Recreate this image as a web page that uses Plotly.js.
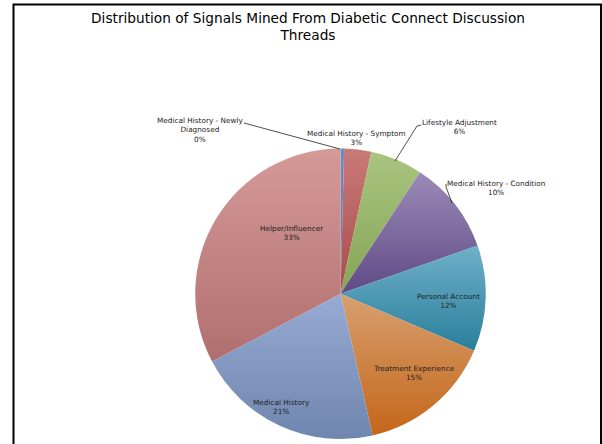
<!DOCTYPE html>
<html><head><meta charset="utf-8">
<script src="https://cdn.plot.ly/plotly-3.0.1.min.js"></script>
<style>html,body{margin:0;padding:0;background:#fff}</style></head>
<body><div id="chart" style="width:602px;height:444px"></div>
<script>
const categories = ["Medical History - Newly Diagnosed","Medical History - Symptom","Lifestyle Adjustment","Medical History - Condition","Personal Account","Treatment Experience","Medical History","Helper/Influencer"];
const values = [0.4,3.0,5.8,10.4,11.8,15.0,20.8,32.7];
const colors = ["#6f8bc0","#c97a78","#a9c47f","#9c8bb8","#6fb0c9","#d8a070","#97abd4","#d59a98"];
const gradEnds = ["#5a76ab","#a84c4a","#85a556","#5f4a85","#2a7f9c","#c4661a","#6f86ae","#b06f6e"];
const labelText = ["Medical History - Newly<br>Diagnosed<br>0%","Medical History - Symptom<br>3%","Lifestyle Adjustment<br>6%","Medical History - Condition<br>10%","Personal Account<br>12%","Treatment Experience<br>15%","Medical History<br>21%","Helper/Influencer<br>33%"];
const W=602,H=444;
const font={family:"'DejaVu Sans', sans-serif",size:7.3,color:"#222"};
const labelPos=[[200,130.5],[356,138],[459,127],[496,188.5],[448,301],[414,373],[281,407],[291,233]];
const leaders=[[[244,123],[340,149]],[[421,125],[417,126],[395,161]],[[446,184],[446,187],[452,203]]];
const annotations=labelPos.map((p,i)=>({x:p[0]/W,y:1-p[1]/H,xref:"paper",yref:"paper",text:labelText[i],showarrow:false,font,align:"center",xanchor:"center",yanchor:"middle"}));
const shapes=[];
leaders.forEach(l=>{for(let k=0;k<l.length-1;k++)shapes.push({type:"line",xref:"paper",yref:"paper",x0:l[k][0]/W,y0:1-l[k][1]/H,x1:l[k+1][0]/W,y1:1-l[k+1][1]/H,line:{color:"#222",width:0.8}});});
shapes.push({type:"rect",xref:"paper",yref:"paper",x0:13.5/W,y0:1-450/H,x1:601/W,y1:1-4.5/H,line:{color:"#000",width:2}});
Plotly.newPlot("chart",[{type:"pie",labels:categories,values:values,sort:false,direction:"clockwise",rotation:0,textinfo:"none",hoverinfo:"label+percent",
 marker:{colors:colors,line:{width:0}},domain:{x:[195/W,486/W],y:[1-439/H,1-148.5/H]},showlegend:false}],
 {width:W,height:H,margin:{l:0,r:0,t:0,b:0},paper_bgcolor:"#fff",showlegend:false,
  title:{text:"Distribution of Signals Mined From Diabetic Connect Discussion<br>Threads",font:{family:"'DejaVu Sans', sans-serif",size:13.7,color:"#000"},x:308/W,xanchor:"center",y:1-22.5/H,yanchor:"middle"},
  annotations,shapes},{displayModeBar:false,staticPlot:true}).then(()=>{
  const svg=document.querySelector("#chart svg.main-svg");
  const NS="http://www.w3.org/2000/svg";
  const defs=document.createElementNS(NS,"defs");
  colors.forEach((c,i)=>{const g=document.createElementNS(NS,"linearGradient");g.setAttribute("id","g"+i);g.setAttribute("x1","0");g.setAttribute("y1","0");g.setAttribute("x2","0");g.setAttribute("y2","1");
    [[0,c],[1,gradEnds[i]]].forEach(s=>{const t=document.createElementNS(NS,"stop");t.setAttribute("offset",s[0]);t.setAttribute("stop-color",s[1]);g.appendChild(t);});defs.appendChild(g);});
  svg.insertBefore(defs,svg.firstChild);
  document.querySelectorAll("#chart .slice path.surface").forEach((p,i)=>{p.style.fill="url(#g"+i+")";});
});
</script></body></html>
